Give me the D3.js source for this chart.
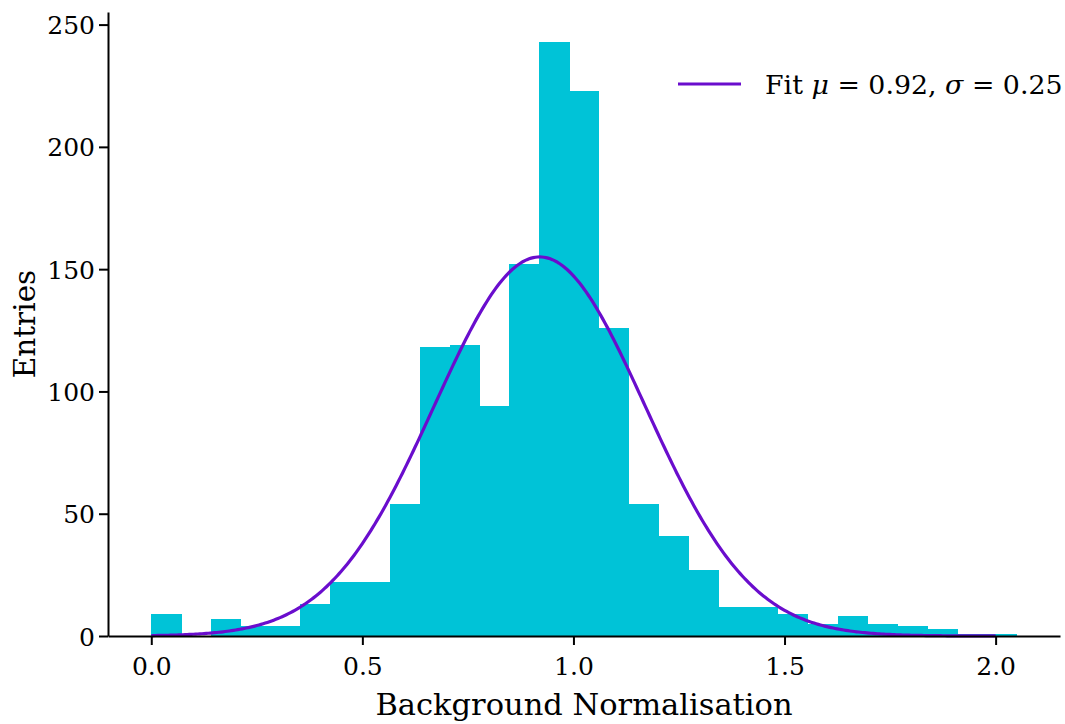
<!DOCTYPE html>
<html>
<head>
<meta charset="utf-8">
<script src="https://cdn.jsdelivr.net/npm/d3@7"></script>
<style>
  html, body { margin: 0; padding: 0; background: #ffffff; }
  svg { display: block; }
  text { font-family: "DejaVu Serif", serif; fill: #000; }
</style>
</head>
<body>
<svg id="chart" width="1065" height="724"></svg>
<script>
// Histogram of fitted background normalisations
const binStart = 0.0;
const binEnd = 2.05;
const counts = [9, 0, 7, 4, 4, 13, 22, 22, 54, 118, 119, 94, 152, 243, 223, 126,
                54, 41, 27, 12, 12, 9, 5, 8, 5, 4, 3, 1, 1];

// Gaussian fit parameters
const fitMu = 0.92;
const fitSigma = 0.25;
const fitAmplitude = 155;
const fitRange = [0.0, 2.0];

const xTicks = [0.0, 0.5, 1.0, 1.5, 2.0];
const yTicks = [0, 50, 100, 150, 200, 250];

const barColor = "#00c3d7";
const fitColor = "#6a0dcd";

const svg = d3.select("#chart");
const plot = { left: 108, right: 1060, top: 12, bottom: 636 };

const nBins = counts.length;
const binWidth = (binEnd - binStart) / nBins;
const xPad = 0.05 * (binEnd - binStart);
const yMax = d3.max(counts) * 1.05;

const x = d3.scaleLinear().domain([binStart - xPad, binEnd + xPad]).range([plot.left, plot.right]);
const y = d3.scaleLinear().domain([0, yMax]).range([plot.bottom, plot.top]);

// bars
svg.append("g")
  .attr("shape-rendering", "crispEdges")
  .selectAll("rect")
  .data(counts)
  .join("rect")
  .attr("x", (d, i) => x(binStart + i * binWidth))
  .attr("width", (d, i) => x(binStart + (i + 1) * binWidth) - x(binStart + i * binWidth) + 0.5)
  .attr("y", d => y(d))
  .attr("height", d => y(0) - y(d))
  .attr("fill", barColor);

// fitted Gaussian
const gauss = v => fitAmplitude * Math.exp(-0.5 * Math.pow((v - fitMu) / fitSigma, 2));
const samples = d3.range(0, 401).map(i => fitRange[0] + (fitRange[1] - fitRange[0]) * i / 400);
svg.append("path")
  .datum(samples)
  .attr("fill", "none")
  .attr("stroke", fitColor)
  .attr("stroke-width", 3.2)
  .attr("d", d3.line().x(v => x(v)).y(v => y(gauss(v))));

// axes
const xAxis = svg.append("g")
  .attr("transform", `translate(0,${plot.bottom})`)
  .call(d3.axisBottom(x).tickValues(xTicks).tickFormat(d3.format(".1f")).tickSize(9).tickSizeOuter(0));
const yAxis = svg.append("g")
  .attr("transform", `translate(${plot.left},0)`)
  .call(d3.axisLeft(y).tickValues(yTicks).tickFormat(d3.format("d")).tickSize(9).tickSizeOuter(0));

[xAxis, yAxis].forEach(g => {
  g.select(".domain").attr("stroke", "#000").attr("stroke-width", 2);
  g.selectAll(".tick line").attr("stroke", "#000").attr("stroke-width", 2);
  g.selectAll(".tick text")
    .attr("font-family", "DejaVu Serif, serif")
    .attr("font-size", 25)
    .attr("fill", "#000");
});
xAxis.selectAll(".tick text").attr("dy", "0.71em").attr("y", 21);
yAxis.selectAll(".tick text").attr("x", -13).attr("dy", "0.36em");

// axis titles
svg.append("text")
  .attr("x", 584)
  .attr("y", 715)
  .attr("text-anchor", "middle")
  .attr("font-size", 30.5)
  .text("Background Normalisation");

svg.append("text")
  .attr("transform", `translate(35,${(plot.top + plot.bottom) / 2}) rotate(-90)`)
  .attr("text-anchor", "middle")
  .attr("font-size", 29.5)
  .text("Entries");

// legend
const legend = svg.append("g");
legend.append("line")
  .attr("x1", 678).attr("x2", 741)
  .attr("y1", 84).attr("y2", 84)
  .attr("stroke", fitColor)
  .attr("stroke-width", 3.2);
const lt = legend.append("text")
  .attr("x", 765)
  .attr("y", 94)
  .attr("font-size", 26.8);
lt.append("tspan").text("Fit ");
lt.append("tspan").attr("font-style", "italic").text("μ");
lt.append("tspan").text(` = ${fitMu.toFixed(2)}, `);
lt.append("tspan").attr("font-style", "italic").text("σ");
lt.append("tspan").text(` = ${fitSigma.toFixed(2)}`);
</script>
</body>
</html>
